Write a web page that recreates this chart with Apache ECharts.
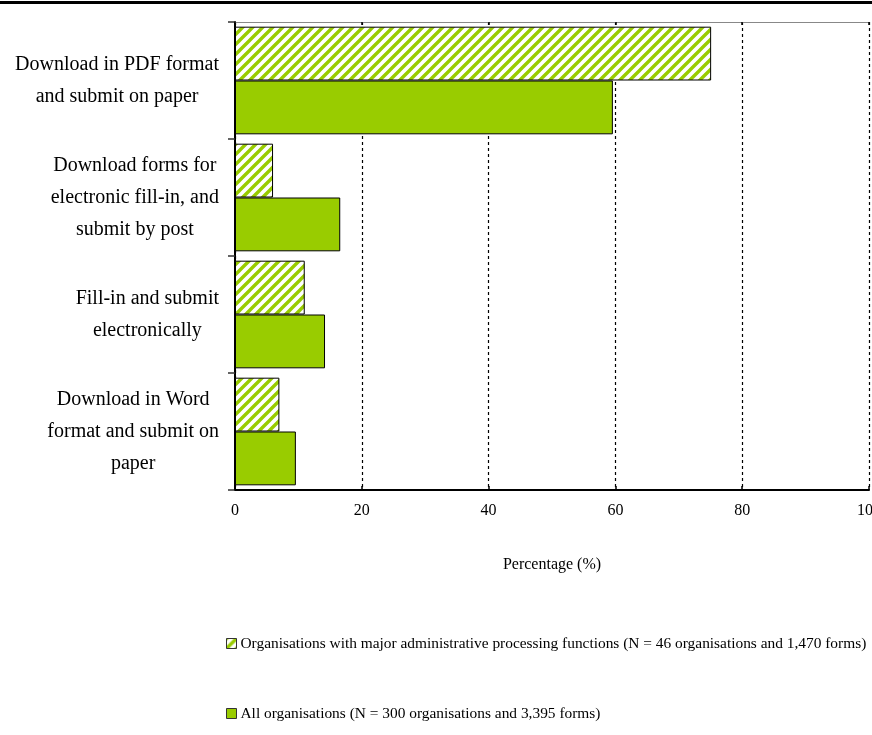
<!DOCTYPE html>
<html>
<head>
<meta charset="utf-8">
<script src="https://cdn.jsdelivr.net/npm/echarts@6/dist/echarts.min.js"></script>
<style>
html,body{margin:0;padding:0;background:#fff;}
#chart{width:872px;height:735px;}
</style>
</head>
<body>
<div id="chart"></div>
<script>
const categories = [
  'Download in PDF format\nand submit on paper',
  'Download forms for\nelectronic fill-in, and\nsubmit by post',
  'Fill-in and submit\nelectronically',
  'Download in Word\nformat and submit on\npaper'
];
const majorValues = [75.1, 6.0, 11.0, 7.0];
const allValues = [59.6, 16.6, 14.2, 9.6];
const xTicks = [0, 20, 40, 60, 80, 100];
const seriesNames = [
  'Organisations with major administrative processing functions (N = 46 organisations and 1,470 forms)',
  'All organisations (N = 300 organisations and 3,395 forms)'
];

const FONT = '"Liberation Serif", "Times New Roman", serif';
const GREEN = '#99cc00';

function makeHatch() {
  const P = 10;
  const c = document.createElement('canvas');
  c.width = P; c.height = P;
  const g = c.getContext('2d');
  g.fillStyle = '#fff';
  g.fillRect(0, 0, P, P);
  g.strokeStyle = GREEN;
  g.lineWidth = 3.4;
  g.lineCap = 'square';
  g.beginPath();
  g.moveTo(-2, P + 2); g.lineTo(P + 2, -2);
  g.moveTo(-2, 2); g.lineTo(2, -2);
  g.moveTo(P - 2, P + 2); g.lineTo(P + 2, P - 2);
  g.stroke();
  return c;
}

const chart = echarts.init(document.getElementById('chart'), null, {renderer: 'canvas'});
const option = {
  backgroundColor: '#fff',
  animation: false,
  textStyle: {fontFamily: FONT},
  grid: {left: 235, right: 3, top: 22, bottom: 245, containLabel: false, outerBoundsMode: 'none'},
  graphic: [
    {type: 'rect', shape: {x: 0, y: 1, width: 872, height: 3}, style: {fill: '#000'}, silent: true}
  ],
  legend: {
    orient: 'vertical',
    left: 221,
    top: 631,
    itemWidth: 10,
    itemHeight: 10,
    itemGap: 55,
    icon: 'rect',
    data: seriesNames,
    textStyle: {fontFamily: FONT, fontSize: 15.4, color: '#000', padding: [0, 0, 0, -1]},
    itemStyle: {borderColor: '#333', borderWidth: 1}
  },
  xAxis: [
    {
      type: 'value',
      position: 'bottom',
      min: 0, max: 100, interval: 20,
      name: 'Percentage (%)',
      nameLocation: 'middle',
      nameGap: 67,
      nameTextStyle: {fontFamily: FONT, fontSize: 16, color: '#000'},
      axisLine: {show: true, lineStyle: {color: '#000', width: 2}},
      axisTick: {show: true, inside: true, length: 4, lineStyle: {color: '#000', width: 1.5}},
      axisLabel: {
        fontFamily: FONT, fontSize: 16, color: '#000', margin: 13,
        formatter: function (v) { return xTicks.indexOf(v) >= 0 ? String(v) : ''; }
      },
      splitLine: {show: true, lineStyle: {color: '#000', width: 1.2, type: [3, 3]}}
    },
    {
      type: 'value',
      position: 'top',
      min: 0, max: 100, interval: 20,
      axisLine: {show: true, lineStyle: {color: '#888', width: 1}},
      axisTick: {show: true, inside: true, length: 3, lineStyle: {color: '#000', width: 1.5}},
      axisLabel: {show: false},
      splitLine: {show: false}
    }
  ],
  yAxis: {
    type: 'category',
    inverse: true,
    data: categories,
    axisLine: {show: true, lineStyle: {color: '#000', width: 2}},
    axisTick: {show: true, inside: false, length: 7, lineStyle: {color: '#333', width: 1.5}},
    axisLabel: {
      margin: 16,
      align: 'right',
      formatter: function (v) {
        return v.split('\n').map(function (l) { return '{c|' + l + '}'; }).join('\n');
      },
      rich: {
        c: {align: 'center', fontFamily: FONT, fontSize: 20, lineHeight: 32, color: '#000'}
      }
    },
    splitLine: {show: false}
  },
  series: [
    {
      name: seriesNames[0],
      type: 'bar',
      xAxisIndex: 0,
      data: majorValues,
      barGap: '0%',
      barCategoryGap: '8%',
      itemStyle: {color: {image: makeHatch(), repeat: 'repeat'}, borderColor: '#000', borderWidth: 1}
    },
    {
      name: seriesNames[1],
      type: 'bar',
      xAxisIndex: 0,
      data: allValues,
      barGap: '0%',
      barCategoryGap: '8%',
      itemStyle: {color: GREEN, borderColor: '#000', borderWidth: 1}
    }
  ]
};
chart.setOption(option);
</script>
</body>
</html>
